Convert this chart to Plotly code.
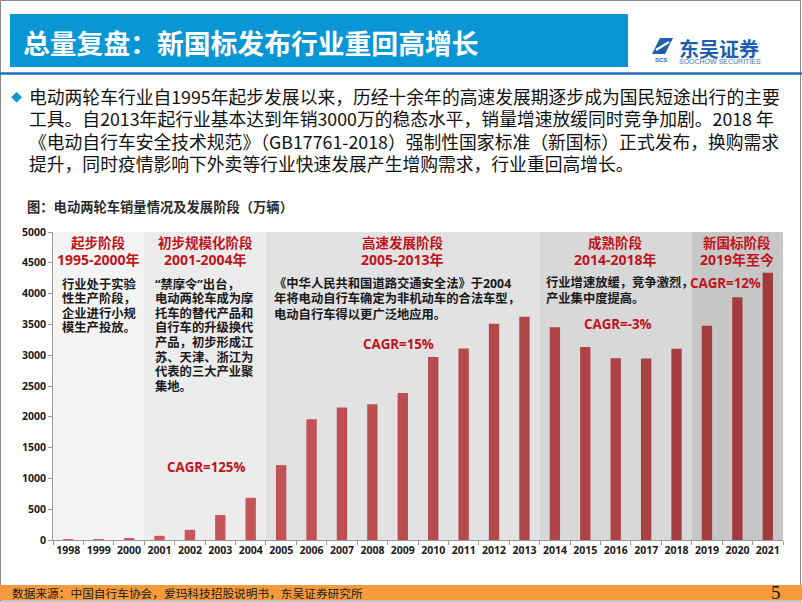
import plotly.graph_objects as go

# ---------------- data ----------------
years = ["1998", "1999", "2000", "2001", "2002", "2003", "2004", "2005", "2006", "2007",
         "2008", "2009", "2010", "2011", "2012", "2013", "2014", "2015", "2016", "2017",
         "2018", "2019", "2020", "2021"]
sales = [10, 15, 30, 68, 165, 405, 685, 1215, 1960, 2150,
         2205, 2385, 2970, 3110, 3510, 3625, 3455, 3135, 2950, 2945,
         3105, 3480, 3940, 4340]

stage_names = ["起步阶段", "初步规模化阶段", "高速发展阶段", "成熟阶段", "新国标阶段"]
stage_periods = ["1995-2000年", "2001-2004年", "2005-2013年", "2014-2018年", "2019年至今"]
stage_first = ["1998", "2001", "2005", "2014", "2019"]
stage_last = ["2000", "2004", "2013", "2018", "2021"]
stage_desc = [
    ["行业处于实验", "性生产阶段，", "企业进行小规", "模生产投放。"],
    ["“禁摩令”出台，", "电动两轮车成为摩", "托车的替代产品和", "自行车的升级换代",
     "产品，初步形成江", "苏、天津、浙江为", "代表的三大产业聚", "集地。"],
    ["《中华人民共和国道路交通安全法》于2004", "年将电动自行车确定为非机动车的合法车型，",
     "电动自行车得以更广泛地应用。"],
    ["行业增速放缓，竞争激烈，", "产业集中度提高。"],
    [],
]
stage_cagr = ["", "CAGR=125%", "CAGR=15%", "CAGR=-3%", "CAGR=12%"]

title_text = "总量复盘：新国标发布行业重回高增长"
para_lines = [
    "电动两轮车行业自1995年起步发展以来，历经十余年的高速发展期逐步成为国民短途出行的主要",
    "工具。自2013年起行业基本达到年销3000万的稳态水平，销量增速放缓同时竞争加剧。2018 年",
    "《电动自行车安全技术规范》（GB17761-2018）强制性国家标准（新国标）正式发布，换购需求",
    "提升，同时疫情影响下外卖等行业快速发展产生增购需求，行业重回高增长。",
]
chart_title = "图：电动两轮车销量情况及发展阶段（万辆）"
source_text = "数据来源：中国自行车协会，爱玛科技招股说明书，东吴证券研究所"
page_no = "5"

# ---------------- styles ----------------
W, H = 802, 602
L, R, T, B = 53, 783, 232, 540
FONT = "Open Sans, Noto Sans CJK SC, sans-serif"
CJK = "Noto Sans CJK SC, sans-serif"
RED = "#c0141c"
stage_fill = ["#f4f4f4", "#ececec", "#e2e2e2", "#d8d8d8", "#c7c7c7"]
stage_body_x = [60, 153, 272, 544, None]
stage_body_y = [284, 284, 283, 282, None]
stage_body_dy = [14.6, 14.6, 15.5, 16.5, 15]
stage_cagr_pos = [None, (206, 467), (398, 344), (618, 324), (725, 283)]


def px(x):
    return (x - L) / (R - L)


def py(y):
    return (B - y) / (B - T)


def lerp_color(c1, c2, t):
    a = [int(c1[i:i + 2], 16) for i in (1, 3, 5)]
    b = [int(c2[i:i + 2], 16) for i in (1, 3, 5)]
    return "#" + "".join(f"{round(a[k] + (b[k] - a[k]) * t):02x}" for k in range(3))


n = len(years)
bar_colors = [lerp_color("#d05d60", "#a13a3d", i / (n - 1)) for i in range(n)]

fig = go.Figure()
fig.add_trace(go.Bar(x=years, y=sales, marker=dict(color=bar_colors, line=dict(width=0)),
                     width=0.34, hoverinfo="x+y"))

shapes = []
annotations = []

# stage shading
for i in range(len(stage_names)):
    x0 = years.index(stage_first[i]) - 0.5
    x1 = years.index(stage_last[i]) + 0.5
    shapes.append(dict(type="rect", xref="x", yref="y", x0=x0, x1=x1, y0=0, y1=5000,
                       fillcolor=stage_fill[i], line=dict(width=0), layer="below"))
    xc = (x0 + x1) / 2
    annotations.append(dict(xref="x", yref="paper", x=xc, y=py(243), text="<b>" + stage_names[i] + "</b>",
                            showarrow=False, font=dict(family=FONT, size=13.5, color=RED),
                            xanchor="center", yanchor="middle"))
    annotations.append(dict(xref="x", yref="paper", x=xc, y=py(259.5), text="<b>" + stage_periods[i] + "</b>",
                            showarrow=False, font=dict(family=FONT, size=14, color=RED),
                            xanchor="center", yanchor="middle"))
    for j, line in enumerate(stage_desc[i]):
        annotations.append(dict(xref="paper", yref="paper", x=px(stage_body_x[i]),
                                y=py(stage_body_y[i] + j * stage_body_dy[i]),
                                text="<b>" + line + "</b>", showarrow=False,
                                font=dict(family=FONT, size=12.3, color="#1a1a1a"),
                                xanchor="left", yanchor="middle"))
    if stage_cagr[i]:
        cx, cy = stage_cagr_pos[i]
        annotations.append(dict(xref="paper", yref="paper", x=px(cx), y=py(cy),
                                text="<b>" + stage_cagr[i] + "</b>", showarrow=False,
                                font=dict(family=FONT, size=13.3, color=RED),
                                xanchor="center", yanchor="middle"))

# slide frame
shapes.append(dict(type="rect", xref="paper", yref="paper", x0=px(0.5), x1=px(800.5), y0=py(601), y1=py(0.5),
                   line=dict(color="#8a8a8a", width=1), fillcolor="rgba(0,0,0,0)", layer="below"))
# header bar
shapes.append(dict(type="rect", xref="paper", yref="paper", x0=px(10), x1=px(628), y0=py(67), y1=py(14),
                   line=dict(width=0), fillcolor="#0896d5", layer="below"))
# blue rule
shapes.append(dict(type="line", xref="paper", yref="paper", x0=px(0), x1=px(802), y0=py(73.5), y1=py(73.5),
                   line=dict(color="#1f6fc0", width=2.5)))
# bottom orange bar
shapes.append(dict(type="rect", xref="paper", yref="paper", x0=px(0), x1=px(802), y0=py(600), y1=py(585),
                   line=dict(width=0), fillcolor="#f79a3e", layer="below"))
# logo icon
shapes.append(dict(type="path", xref="paper", yref="paper",
                   path=f"M {px(652)},{py(54)} L {px(660)},{py(38)} L {px(673)},{py(38)} L {px(665)},{py(54)} Z",
                   line=dict(width=0), fillcolor="#1f5fae"))
shapes.append(dict(type="line", xref="paper", yref="paper", x0=px(656), x1=px(669), y0=py(50), y1=py(42),
                   line=dict(color="white", width=2.5)))

annotations += [
    dict(xref="paper", yref="paper", x=px(21), y=py(42), text="<b>" + title_text + "</b>", showarrow=False,
         font=dict(family=CJK, size=26.8, color="white"), xanchor="left", yanchor="middle"),
    dict(xref="paper", yref="paper", x=px(677), y=py(48), text="<b>东吴证券</b>", showarrow=False,
         font=dict(family=CJK, size=20, color="#1f5fae"), xanchor="left", yanchor="middle"),
    dict(xref="paper", yref="paper", x=px(677), y=py(61.5), text="SOOCHOW SECURITIES", showarrow=False,
         font=dict(family="Liberation Sans, sans-serif", size=7, color="#4a78b5"),
         xanchor="left", yanchor="middle"),
    dict(xref="paper", yref="paper", x=px(661), y=py(60), text="<b>SCS</b>", showarrow=False,
         font=dict(family="Liberation Sans, sans-serif", size=6, color="#1f5fae"),
         xanchor="center", yanchor="middle"),
    dict(xref="paper", yref="paper", x=px(9), y=py(96), text="◆", showarrow=False,
         font=dict(family="DejaVu Sans", size=14, color="#0896d5"), xanchor="left", yanchor="middle"),
    dict(xref="paper", yref="paper", x=px(25), y=py(207), text="<b>" + chart_title + "</b>", showarrow=False,
         font=dict(family=CJK, size=13.3, color="#2b2b2b"), xanchor="left", yanchor="middle"),
    dict(xref="paper", yref="paper", x=px(10), y=py(592.5), text=source_text, showarrow=False,
         font=dict(family=CJK, size=11.7, color="#1a1a1a"), xanchor="left", yanchor="middle"),
    dict(xref="paper", yref="paper", x=px(783), y=py(592), text=page_no, showarrow=False,
         font=dict(family="Liberation Serif, serif", size=19, color="#1a1a1a"), xanchor="right", yanchor="middle"),
]
for k, line in enumerate(para_lines):
    annotations.append(dict(xref="paper", yref="paper", x=px(27), y=py(96 + k * 22.4), text=line,
                            showarrow=False, font=dict(family=CJK, size=17.8, color="#111111"),
                            xanchor="left", yanchor="middle"))

fig.update_layout(
    width=W, height=H,
    margin=dict(l=L, r=W - R, t=T, b=H - B, pad=0),
    paper_bgcolor="white", plot_bgcolor="white",
    showlegend=False,
    shapes=shapes, annotations=annotations,
    xaxis=dict(type="category", range=[-0.5, n - 0.5], showgrid=False, showline=True,
               linecolor="#9a9a9a", linewidth=1, ticks="outside", tickson="boundaries",
               ticklen=4, tickcolor="#9a9a9a", tickangle=0,
               tickfont=dict(family=FONT, size=10.5, color="#1a1a1a", weight="bold")),
    yaxis=dict(range=[0, 5000], dtick=500, showgrid=False, showline=True, linecolor="#9a9a9a",
               linewidth=1, ticks="outside", ticklen=4, tickcolor="#9a9a9a",
               tickfont=dict(family=FONT, size=10.5, color="#1a1a1a", weight="bold"),
               zeroline=False),
)

fig.write_html("out.html", config={"displayModeBar": False},
               post_script="document.body.style.margin='0';document.body.style.overflow='hidden';")
